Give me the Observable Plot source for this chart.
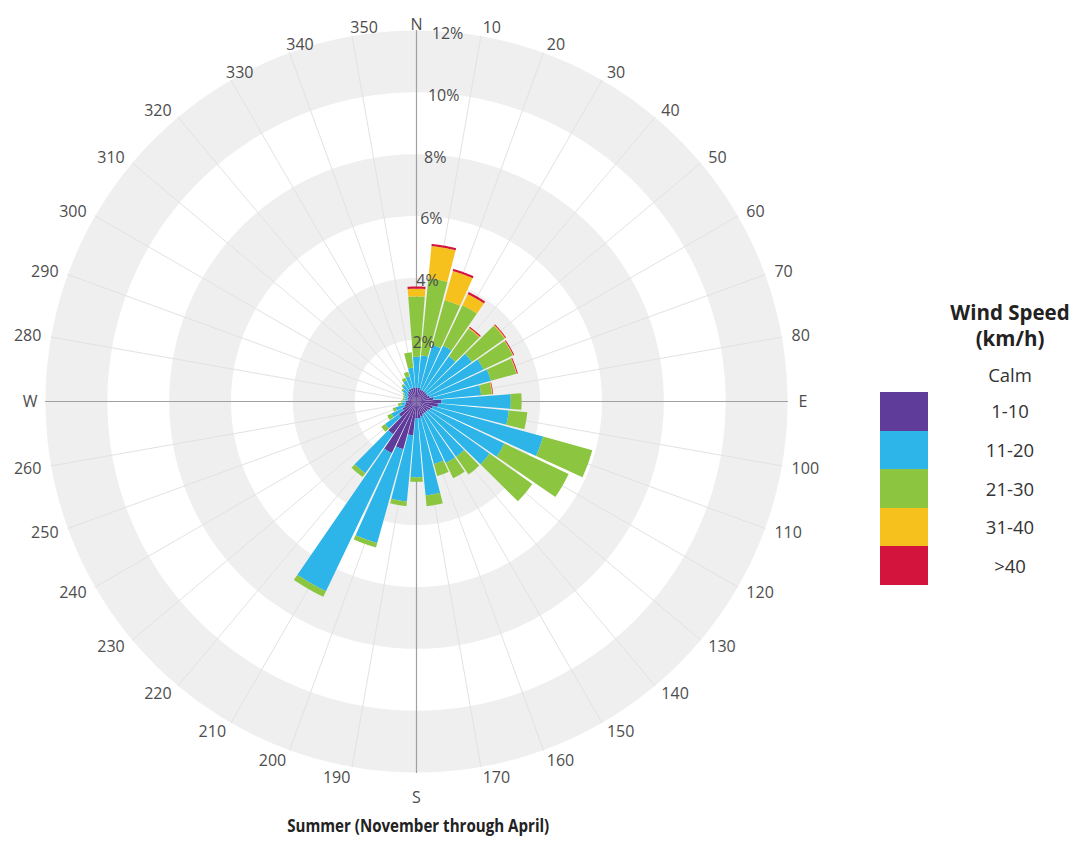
<!DOCTYPE html>
<html>
<head>
<meta charset="utf-8">
<script src="https://cdn.jsdelivr.net/npm/d3@7"></script>
<script src="https://cdn.jsdelivr.net/npm/@observablehq/plot@0.6"></script>
<style>
  body { margin: 0; background: #fff; font-family: "Open Sans", sans-serif; }
  #wrap { position: relative; width: 1081px; height: 863px; overflow: hidden; }
  #chart { position: absolute; left: 0; top: 0; }
  .lg { position: absolute; left: 930px; width: 160px; text-align: center; color: #333; font-size: 18.5px; line-height: 24px; }
  .lgt { font-weight: bold; color: #222; font-size: 20.5px; }
  .sw { position: absolute; left: 880px; width: 48px; }
  #cap { position: absolute; top: 813px; left: 0; width: 836px; text-align: center; }
  #cap span { display: inline-block; font-weight: bold; font-size: 18px; color: #222; transform-origin: center; }
</style>
</head>
<body>
<div id="wrap">
  <div id="chart"></div>
  <div id="legend"></div>
  <div id="cap"><span id="capText">Summer (November through April)</span></div>
</div>
<script>
// ---------------- data ----------------
const directions = [0,10,20,30,40,50,60,70,80,90,100,110,120,130,140,150,160,170,180,190,200,210,220,230,240,250,260,270,280,290,300,310,320,330,340,350];
const directionLabels = ["N","10","20","30","40","50","60","70","80","E","100","110","120","130","140","150","160","170","S","190","200","210","220","230","240","250","260","W","280","290","300","310","320","330","340","350"];
const speedClasses = ["1-10","11-20","21-30","31-40",">40"];
const speedColors = ["#5f3c9a","#2db4e8","#8cc540","#f6c11c","#d3143c"];
// percentage of time per direction, per speed class (km/h)
const speed1_10  = [0.45,0.45,0.40,0.40,0.40,0.40,0.40,0.45,0.55,0.80,0.70,0.55,0.50,0.45,0.45,0.45,0.50,0.55,0.55,1.10,1.60,1.85,1.30,0.70,0.50,0.40,0.35,0.35,0.30,0.30,0.30,0.35,0.40,0.45,0.45,0.45];
const speed11_20 = [1.00,1.05,1.50,1.60,1.40,1.80,2.00,2.05,1.55,2.25,2.30,3.70,2.65,2.45,1.75,1.75,1.60,2.50,1.90,2.15,3.15,4.95,1.55,0.55,0.40,0.30,0.15,0.10,0.10,0.10,0.15,0.20,0.25,0.30,0.40,0.65];
const speed21_30 = [1.95,2.50,1.50,1.45,1.10,1.30,1.05,0.85,0.35,0.35,0.60,1.65,2.30,1.70,0.70,0.55,0.40,0.35,0.15,0.15,0.15,0.20,0.15,0.15,0.15,0.10,0.10,0.05,0.05,0.05,0.05,0.05,0.05,0.10,0.15,0.50];
const speed31_40 = [0.25,1.05,0.98,0.40,0.03,0.03,0.02,0.02,0.02,0,0,0,0,0,0,0,0,0,0,0,0,0,0,0,0,0,0,0,0,0,0,0,0,0,0,0];
const speedOver40= [0.07,0.07,0.07,0.07,0.04,0.03,0.03,0.03,0.02,0,0,0,0,0,0,0,0,0,0,0,0,0,0,0,0,0,0,0,0,0,0,0,0,0,0,0];
const speedSeries = [speed1_10, speed11_20, speed21_30, speed31_40, speedOver40];
const ringTicks = [2,4,6,8,10,12];
const maxPercent = 12;

// ---------------- polar helpers (percent -> colatitude on an azimuthal projection) ----------------
const K = 6;                       // degrees of arc per percent
const lat = p => 90 - p * K;
const lon = d => 180 - d;          // compass direction -> longitude (clockwise from top)

function fixWinding(f) {
  if (d3.geoArea(f) > 2 * Math.PI) f.geometry.coordinates[0].reverse();
  return f;
}
function wedge(d, p0, p1, props, half = 4.5, step = 0.25) {
  const ring = [];
  for (let a = d - half; a <= d + half + 1e-9; a += step) ring.push([lon(a), lat(p1)]);
  for (let a = d + half; a >= d - half - 1e-9; a -= step) ring.push([lon(a), lat(Math.max(p0, 0.002))]);
  ring.push(ring[0].slice());
  return fixWinding({type: "Feature", properties: props, geometry: {type: "Polygon", coordinates: [ring]}});
}

// background bands (alternating gray / white disks, largest first)
const bands = ringTicks.slice().reverse().map(p => fixWinding({
  type: "Feature",
  properties: {fill: (p / 2) % 2 === 0 ? "#efefef" : "#ffffff"},
  geometry: d3.geoCircle().center([0, 90]).radius(p * K)()
}));

// spokes at every direction
const spokes = directions.map(d => ({type: "LineString", coordinates: [[lon(d), 90], [lon(d), lat(maxPercent)]]}));
// main compass axes
const axes = [
  {type: "LineString", coordinates: [[lon(0), lat(maxPercent)], [0, 90], [lon(180), lat(maxPercent)]]},
  {type: "LineString", coordinates: [[lon(90), lat(maxPercent)], [0, 90], [lon(270), lat(maxPercent)]]}
];

// stacked wedges
const segments = [];
directions.forEach((d, i) => {
  let c = 0;
  speedSeries.forEach((series, k) => {
    const v = series[i];
    if (v > 0) { segments.push(wedge(d, c, c + v, {fill: speedColors[k]})); c += v; }
  });
});

const outerCircle = d3.geoCircle().center([0, 90]).radius(maxPercent * K)();

// label groups (compass letters centred; numbers aligned away from the centre)
const idx = directions.map((d, i) => i);
const compassIdx = idx.filter(i => directions[i] % 90 === 0);
const startIdx = idx.filter(i => directions[i] % 90 !== 0 && (directions[i] < 180 || directions[i] >= 330));
const endIdx = idx.filter(i => directions[i] % 90 !== 0 && directions[i] > 180 && directions[i] < 330);
const labelStyle = {fontSize: 16, fill: "#4d4d4d"};

const W = 840, H = 800, cx = 416, cy = 401, R = 371;
const chart = Plot.plot({
  width: W, height: H,
  marginLeft: cx - R, marginTop: cy - R, marginRight: W - cx - R, marginBottom: H - cy - R,
  projection: {type: "azimuthal-equidistant", rotate: [0, -90], domain: outerCircle, clip: false},
  color: {type: "identity"},
  style: {fontFamily: "'Open Sans', sans-serif", overflow: "visible"},
  marks: [
    Plot.geo(bands, {fill: d => d.properties.fill}),
    Plot.geo(spokes, {stroke: "#e2e2e2", strokeWidth: 1}),
    Plot.geo(axes, {stroke: "#a0a0a0", strokeWidth: 1.2}),
    Plot.geo(segments, {fill: d => d.properties.fill}),
    Plot.text(ringTicks, {x: lon(3.6), y: p => lat(p), text: p => p + "%", textAnchor: "start", dx: -8, dy: 3, ...labelStyle}),
    Plot.text(compassIdx, {x: i => lon(directions[i]), y: lat(12.5), text: i => directionLabels[i], ...labelStyle}),
    Plot.text(startIdx, {x: i => lon(directions[i]), y: lat(12.32), text: i => directionLabels[i], textAnchor: "start", dy: 1, ...labelStyle}),
    Plot.text(endIdx, {x: i => lon(directions[i]), y: lat(12.32), text: i => directionLabels[i], textAnchor: "end", dy: 1, ...labelStyle})
  ]
});
document.getElementById("chart").appendChild(chart);

// nudge N and S letters slightly down (baseline offset, as in the original)
chart.querySelectorAll("text").forEach(t => {
  if (t.textContent === "N" || t.textContent === "S") t.setAttribute("dy", "0.6em");
});

// ---------------- legend ----------------
const legend = document.getElementById("legend");
function addText(txt, yc, cls) {
  const el = document.createElement("div");
  el.className = "lg" + (cls ? " " + cls : "");
  el.textContent = txt;
  el.style.top = (yc - 12) + "px";
  legend.appendChild(el);
}
addText("Wind Speed", 312, "lgt");
addText("(km/h)", 338, "lgt");
addText("Calm", 375);
const rowTop = 392, rowH = 38.6;
speedClasses.forEach((s, k) => {
  const sw = document.createElement("div");
  sw.className = "sw";
  sw.style.top = (rowTop + k * rowH) + "px";
  sw.style.height = rowH + "px";
  sw.style.background = speedColors[k];
  legend.appendChild(sw);
  addText(s, rowTop + k * rowH + rowH / 2);
});

// caption width fit (condensed look)
const cap = document.getElementById("capText");
const wcap = cap.getBoundingClientRect().width;
cap.style.transform = "scaleX(" + (262 / wcap) + ")";
</script>
</body>
</html>
